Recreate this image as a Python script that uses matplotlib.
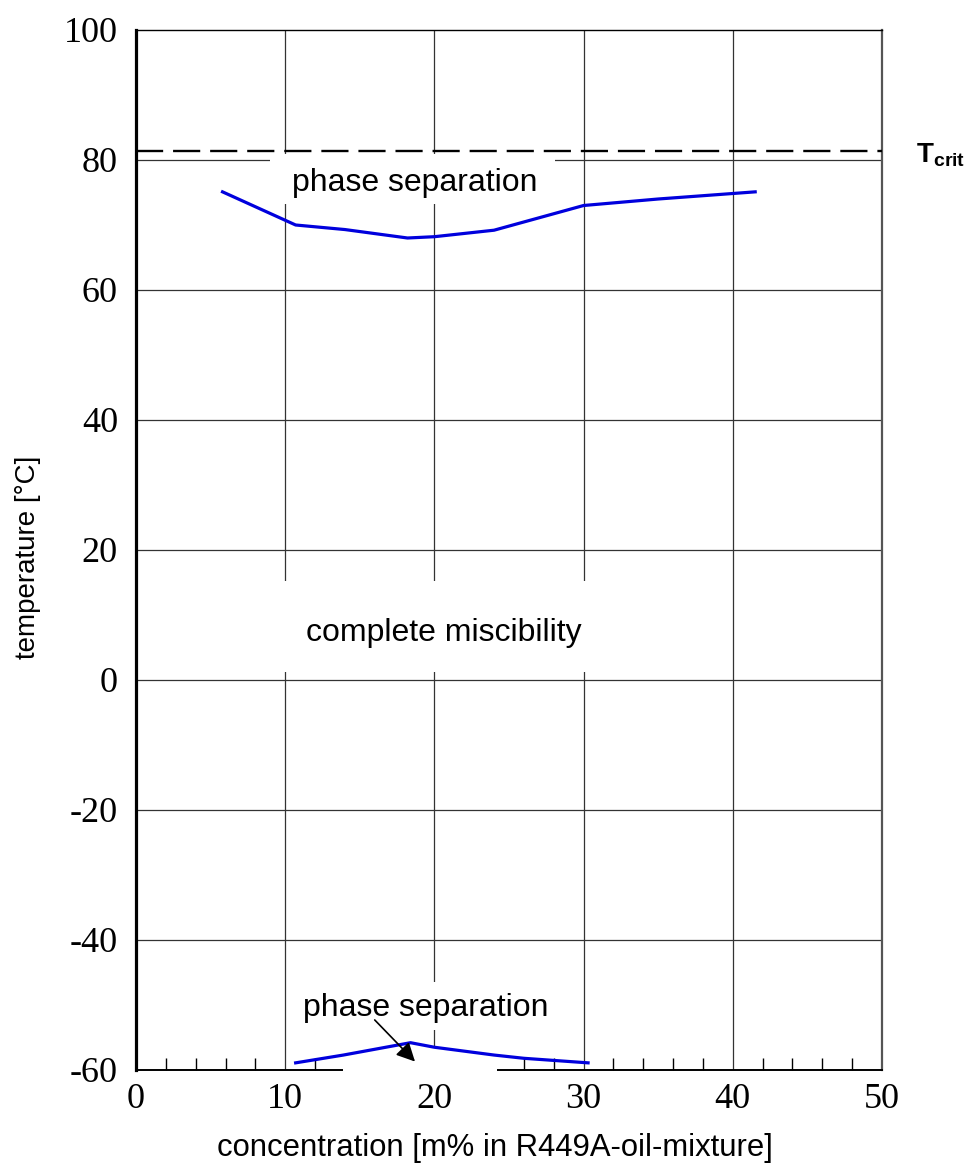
import matplotlib
matplotlib.use("Agg")
import matplotlib.pyplot as plt
from matplotlib.patches import Rectangle
from matplotlib.ticker import MultipleLocator

plt.rcParams['mathtext.fontset'] = 'custom'
plt.rcParams['mathtext.rm'] = 'Liberation Sans'
plt.rcParams['mathtext.bf'] = 'Liberation Sans:bold'
plt.rcParams['axes.unicode_minus'] = False

# ---- data ----
upper_x = [5.8, 10.7, 14.0, 18.2, 20.0, 24.0, 30.0, 35.0, 41.5]
upper_y = [75.1, 70.0, 69.3, 68.0, 68.2, 69.2, 73.0, 74.0, 75.1]
lower_x = [10.7, 13.9, 18.4, 20.0, 24.0, 26.0, 30.3]
lower_y = [-58.9, -57.7, -55.8, -56.5, -57.7, -58.2, -58.9]
t_crit = 81.4
x_ticks = [0, 10, 20, 30, 40, 50]
y_ticks = [-60, -40, -20, 0, 20, 40, 60, 80, 100]

fig = plt.figure(figsize=(9.71, 11.66), dpi=100)
ax = fig.add_axes([136/971, 1 - 1070/1166, (882-136)/971, (1070-30)/1166])
ax.set_xlim(0, 50)
ax.set_ylim(-60, 100)

grid_c = '#333333'
for xv in x_ticks[1:-1]:
    ax.axvline(xv, color=grid_c, lw=0.9, zorder=1)
for yv in y_ticks[1:-1]:
    ax.axhline(yv, color=grid_c, lw=0.9, zorder=1)

# white masks behind annotations
ax.add_patch(Rectangle((9.0, 73.3), 19.1, 7.6, facecolor='white', edgecolor='none', zorder=2))
ax.add_patch(Rectangle((8.0, 1.2), 24.0, 14.1, facecolor='white', edgecolor='none', zorder=2))
ax.add_patch(Rectangle((10.15, -53.8), 19.3, 7.3, facecolor='white', edgecolor='none', zorder=2))
ax.add_patch(Rectangle((13.85, -61.5), 10.35, 4.9, facecolor='white', edgecolor='none', zorder=3, clip_on=False))

ax.axhline(t_crit, color='black', lw=1.7, linestyle=(0, (11.5, 4.2)), zorder=3.5)

ax.plot(upper_x, upper_y, color='#0000dd', lw=2.3, zorder=4)
ax.plot(lower_x, lower_y, color='#0000dd', lw=2.3, zorder=4)

ax.text(18.7, 76.4, 'phase separation', ha='center', va='center', fontsize=23, family='Liberation Sans', zorder=5)
ax.text(20.6, 7.3, 'complete miscibility', ha='center', va='center', fontsize=23, family='Liberation Sans', zorder=5)
ax.text(19.4, -50.5, 'phase separation', ha='center', va='center', fontsize=23, family='Liberation Sans', zorder=5)
ax.annotate('', xy=(18.7, -58.7), xytext=(16.0, -52.3),
            arrowprops=dict(arrowstyle='-|>', color='black', lw=1.2, mutation_scale=28, shrinkA=0, shrinkB=0), zorder=6)

ax.text(1.045, t_crit - 0.6, r'$\mathbf{T}_{\mathbf{crit}}$', transform=ax.get_yaxis_transform(),
        ha='left', va='center', fontsize=20, zorder=6)

ax.set_xticks(x_ticks)
ax.set_yticks(y_ticks)
ax.xaxis.set_minor_locator(MultipleLocator(2))
ax.tick_params(axis='both', which='major', length=0, labelsize=26)
ax.tick_params(axis='x', which='major', pad=9)
ax.tick_params(axis='y', which='major', pad=13)
ax.tick_params(axis='x', which='minor', direction='in', length=9, width=1.0, color='black')
for lab in ax.get_xticklabels() + ax.get_yticklabels():
    lab.set_family('Liberation Serif')

ax.spines['left'].set_linewidth(2.3)
ax.spines['left'].set_color('black')
ax.spines['bottom'].set_linewidth(1.4)
ax.spines['top'].set_linewidth(1.0)
ax.spines['right'].set_linewidth(1.6)
ax.spines['right'].set_color('#555555')

fig.text(28/971, 1 - 557/1166, 'temperature [°C]', rotation=90, ha='center', va='center',
         fontsize=20, family='Liberation Sans')
fig.text(495/971, 1 - 1148/1166, 'concentration [m% in R449A-oil-mixture]', ha='center', va='center',
         fontsize=22.3, family='Liberation Sans')

fig.savefig('out.png', dpi=100)
